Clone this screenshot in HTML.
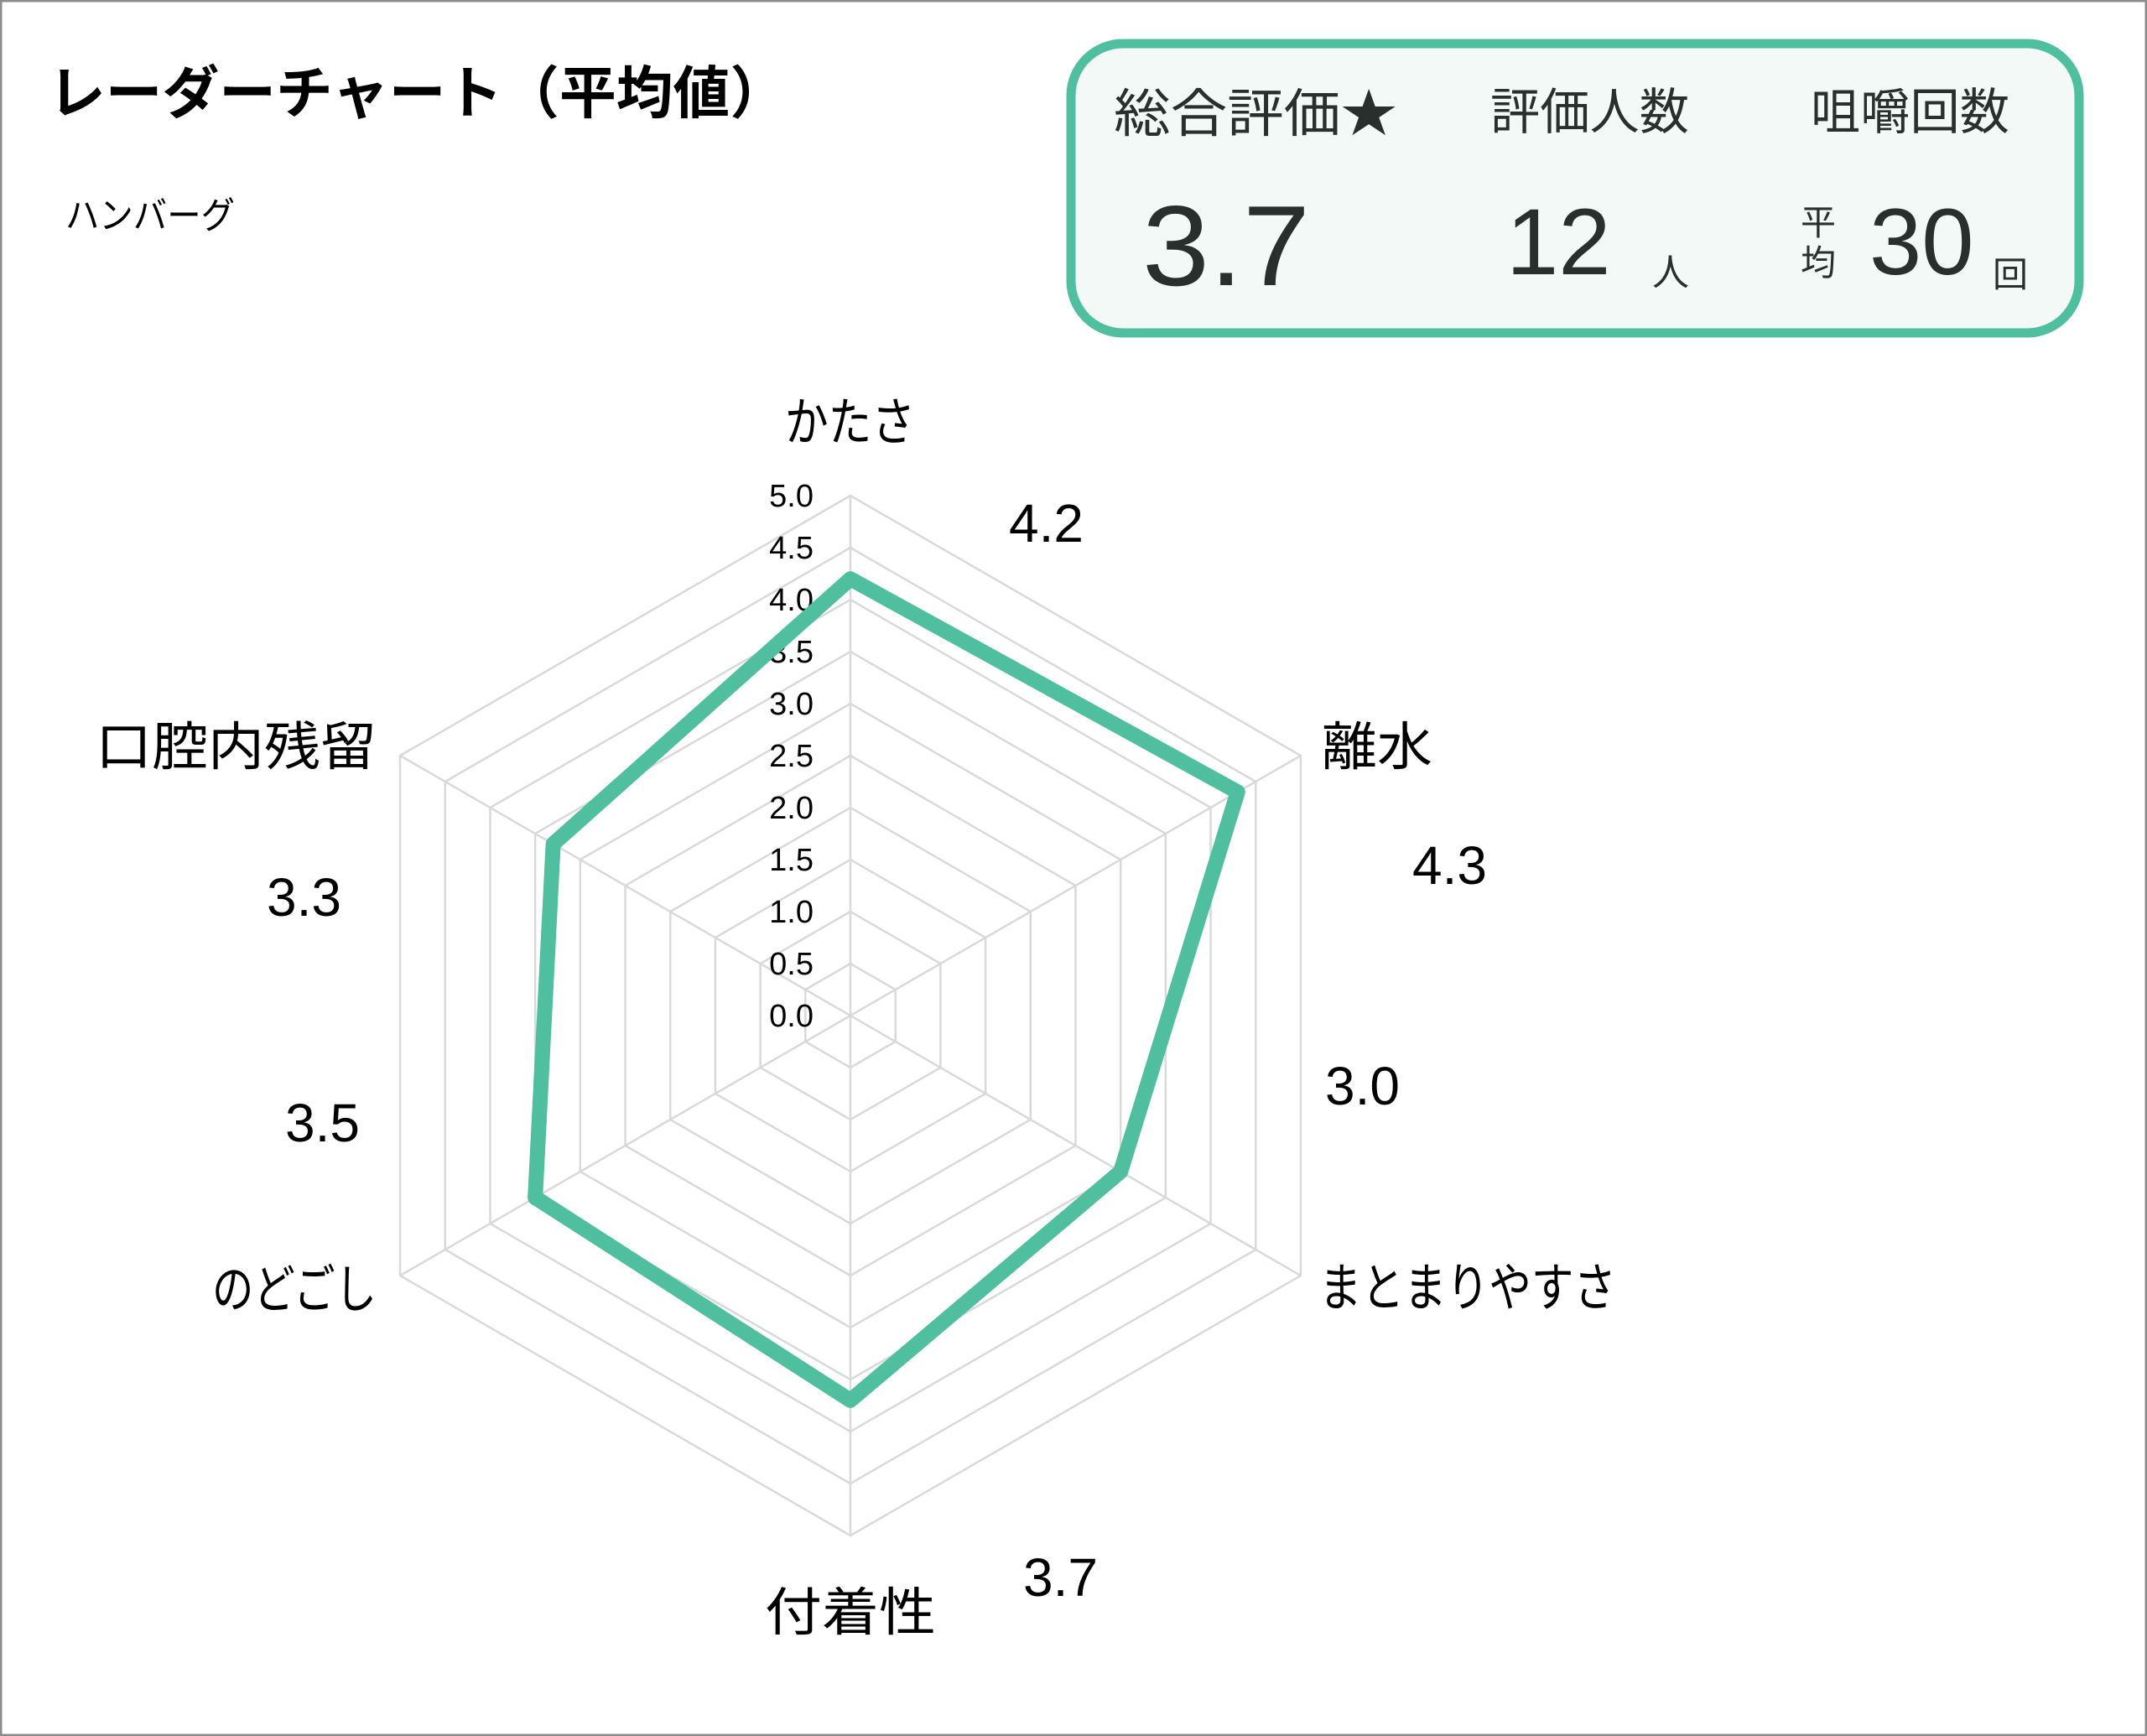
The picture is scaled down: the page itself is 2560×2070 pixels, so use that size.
<!DOCTYPE html>
<html><head><meta charset="utf-8"><style>
html,body{margin:0;padding:0;background:#fff}
svg{display:block}
text{font-family:"Liberation Sans","Noto Sans CJK JP",sans-serif}
</style></head><body>
<svg width="2560" height="2070" viewBox="0 0 2560 2070" xmlns="http://www.w3.org/2000/svg">
<rect x="1" y="1" width="2558" height="2068" fill="#fff" stroke="#8c8c8c" stroke-width="3"/>
<text x="58" y="135" font-size="68" font-weight="bold" fill="#000" textLength="880" lengthAdjust="spacingAndGlyphs">レーダーチャート（平均値）</text>
<text x="78" y="272" font-size="44" fill="#000" textLength="202" lengthAdjust="spacingAndGlyphs">ハンバーグ</text>

<rect x="1277" y="52" width="1202" height="345" rx="62" ry="62" fill="#f2f9f6" stroke="#4fbfa0" stroke-width="11"/>
<text x="1328" y="157" font-size="62" fill="#2a2f2d" textLength="338" lengthAdjust="spacingAndGlyphs">総合評価★</text>
<text x="1777" y="154" font-size="59" fill="#2a2f2d" textLength="237" lengthAdjust="spacingAndGlyphs">評価人数</text>
<text x="2159" y="154" font-size="59" fill="#2a2f2d" textLength="237" lengthAdjust="spacingAndGlyphs">咀嚼回数</text>
<text x="1362" y="340" font-size="136" fill="#2a2f2d" textLength="200" lengthAdjust="spacingAndGlyphs">3.7</text>
<text x="1796" y="327" font-size="112" fill="#2a2f2d">12</text>
<text x="1970" y="340" font-size="44" fill="#2a2f2d">人</text>
<text x="2147" y="280" font-size="42" fill="#2a2f2d">平</text>
<text x="2147" y="328" font-size="42" fill="#2a2f2d">均</text>
<text x="2229" y="327" font-size="112" fill="#2a2f2d">30</text>
<text x="2376" y="342" font-size="42" fill="#2a2f2d">回</text>

<g id="grid" fill="none" stroke="#d9d9d9" stroke-width="2.5"></g>
<g id="ticks" font-size="38" fill="#000" text-anchor="end"></g>
<polygon id="data" fill="none" stroke="#4fbfa0" stroke-width="18" stroke-linejoin="round"/>

<g font-size="62" fill="#000">
<text x="936" y="525" textLength="155" lengthAdjust="spacingAndGlyphs">かたさ</text>
<text x="1576" y="912" textLength="132" lengthAdjust="spacingAndGlyphs">離水</text>
<text x="1573" y="1557" textLength="354" lengthAdjust="spacingAndGlyphs">まとまりやすさ</text>
<text x="912" y="1944" textLength="204" lengthAdjust="spacingAndGlyphs">付着性</text>
<text x="253" y="1559" textLength="196" lengthAdjust="spacingAndGlyphs">のどごし</text>
<text x="114" y="912" textLength="335" lengthAdjust="spacingAndGlyphs">口腔内残留</text>
</g>
<g font-size="64" fill="#000">
<text x="1203" y="646">4.2</text>
<text x="1684" y="1054">4.3</text>
<text x="1580" y="1317">3.0</text>
<text x="1220" y="1903">3.7</text>
<text x="340" y="1361">3.5</text>
<text x="318" y="1092">3.3</text>
</g>
<script>
(function(){
var cx=1014,cy=1211,R=620,ns="http://www.w3.org/2000/svg";
function pt(i,r){var a=-Math.PI/2+i*Math.PI/3;return [cx+r*Math.cos(a),cy+r*Math.sin(a)];}
var g=document.getElementById('grid');
for(var k=1;k<=10;k++){var r=R*k/10,p=[];for(var i=0;i<6;i++)p.push(pt(i,r).join(','));
var e=document.createElementNS(ns,'polygon');e.setAttribute('points',p.join(' '));g.appendChild(e);}
for(var i=0;i<6;i++){var q=pt(i,R);var l=document.createElementNS(ns,'line');l.setAttribute('x1',cx);l.setAttribute('y1',cy);l.setAttribute('x2',q[0]);l.setAttribute('y2',q[1]);g.appendChild(l);}
var t=document.getElementById('ticks');
for(var k=0;k<=10;k++){var v=k*0.5;var tx=document.createElementNS(ns,'text');tx.setAttribute('x',970);tx.setAttribute('y',cy-R*v/5+13);tx.textContent=v.toFixed(1);t.appendChild(tx);}
var vals=[4.2,4.3,3.0,3.7,3.5,3.3],p=[];
for(var i=0;i<6;i++)p.push(pt(i,R*vals[i]/5).join(','));
document.getElementById('data').setAttribute('points',p.join(' '));
})();
</script>
</svg>
</body></html>
